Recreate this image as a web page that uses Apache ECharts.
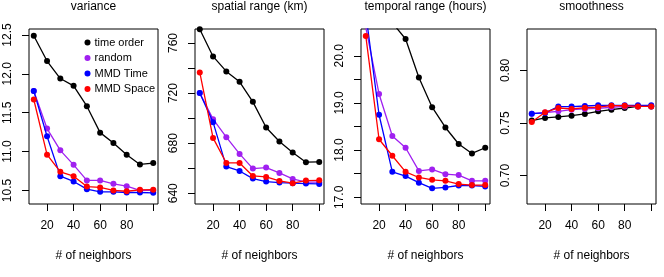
<!DOCTYPE html>
<html>
<head>
<meta charset="utf-8">
<script src="https://cdn.jsdelivr.net/npm/echarts@6/dist/echarts.min.js"></script>
<style>
html,body{margin:0;padding:0;background:#fff;}
#c{width:664px;height:277px;}
</style>
</head>
<body>
<div id="c"></div>
<script>
// ---- data ----
const neighbors = [10, 20, 30, 40, 50, 60, 70, 80, 90, 100];
const seriesNames = ['time order', 'random', 'MMD Time', 'MMD Space'];
const seriesColors = ['#000000', '#A020F0', '#0000FF', '#FF0000'];
const panelTitles = ['variance', 'spatial range (km)', 'temporal range (hours)', 'smoothness'];
const xTickValues = [20, 40, 60, 80, 100];
const xLabelValues = [20, 40, 60, 80];

// variance
const varTime   = [12.49, 12.165, 11.94, 11.846, 11.584, 11.244, 11.11, 10.96, 10.835, 10.852];
const varRandom = [11.78, 11.296, 11.016, 10.83, 10.629, 10.629, 10.586, 10.555, 10.50, 10.50];
const varMMDT   = [11.78, 11.197, 10.684, 10.616, 10.517, 10.483, 10.483, 10.474, 10.474, 10.47];
const varMMDS   = [11.67, 10.96, 10.74, 10.684, 10.55, 10.539, 10.50, 10.49, 10.508, 10.51];
// spatial range (km)
const spTime   = [771, 749.3, 737.3, 729, 713, 692.5, 681.3, 672.5, 664.8, 665];
const spRandom = [720, 699.2, 684.8, 671.4, 659.7, 660.5, 656.2, 651.4, 648.8, 648.8];
const spMMDT   = [720, 696.8, 661.3, 657.8, 651.7, 649.3, 648.5, 648, 647.7, 647.4];
const spMMDS   = [736.5, 684.2, 664.2, 664.2, 653.8, 653, 649.8, 648, 650.1, 650.3];
// temporal range (hours)
const tpTime   = [22.17, 21.22, 20.70, 20.355, 19.54, 18.91, 18.48, 18.13, 17.93, 18.05];
const tpRandom = [20.6, 19.19, 18.30, 18.05, 17.56, 17.59, 17.49, 17.47, 17.35, 17.35];
const tpMMDT   = [20.9, 18.75, 17.54, 17.45, 17.31, 17.19, 17.21, 17.25, 17.25, 17.23];
const tpMMDS   = [20.42, 18.23, 17.88, 17.54, 17.42, 17.37, 17.35, 17.28, 17.26, 17.26];
// smoothness
const smTime   = [0.7523, 0.7548, 0.7558, 0.757, 0.7586, 0.7611, 0.7627, 0.7643, 0.7658, 0.7658];
const smRandom = [0.7589, 0.760, 0.7611, 0.7627, 0.7634, 0.764, 0.765, 0.7658, 0.7658, 0.7658];
const smMMDT   = [0.7589, 0.7596, 0.7656, 0.7656, 0.7662, 0.7668, 0.7668, 0.7668, 0.7668, 0.7668];
const smMMDS   = [0.751, 0.7602, 0.7643, 0.7634, 0.7645, 0.7651, 0.7665, 0.7665, 0.7658, 0.7658];

// y-axis ticks and labels per panel
const yTicks = [
  [10.5, 11.0, 11.5, 12.0, 12.5],
  [640, 660, 680, 700, 720, 740, 760],
  [17.0, 17.5, 18.0, 18.5, 19.0, 19.5, 20.0],
  [0.70, 0.75, 0.80]
];
const yLabels = [
  [10.5, 11.0, 11.5, 12.0, 12.5],
  [640, 680, 720, 760],
  [17.0, 18.0, 19.0, 20.0],
  [0.70, 0.75, 0.80]
];
const yDecimals = [1, 0, 1, 2];
const yRanges = [[10.326, 12.577], [631.4, 771.2], [16.858, 20.567], [0.673, 0.8394]];

const panelData = [
  [varTime, varRandom, varMMDT, varMMDS],
  [spTime, spRandom, spMMDT, spMMDS],
  [tpTime, tpRandom, tpMMDT, tpMMDS],
  [smTime, smRandom, smMMDT, smMMDS]
];

// ---- layout ----
const gridLefts = [29, 195, 361, 527];
const gridTop = 29, gridW = 129, gridH = 175;
const FONT = 'Liberation Sans, Arial, Helvetica, sans-serif';

const grids = [], xAxes = [], yAxes = [], titles = [], series = [];
for (let p = 0; p < 4; p++) {
  grids.push({
    left: gridLefts[p], top: gridTop, width: gridW, height: gridH,
    show: true, borderColor: '#000', borderWidth: 1, backgroundColor: 'transparent'
  });
  titles.push({
    text: panelTitles[p], left: gridLefts[p] + gridW / 2, top: 1, textAlign: 'center', padding: 0,
    textStyle: { fontFamily: FONT, fontSize: 12, fontWeight: 'normal', color: '#000' }
  });
  xAxes.push({
    gridIndex: p, type: 'value', min: 6.4, max: 103.6,
    axisLine: { show: false },
    splitLine: { show: false },
    axisTick: { show: true, length: 7, lineStyle: { color: '#000', width: 1 }, customValues: xTickValues },
    axisLabel: { customValues: xLabelValues, margin: 16, color: '#000', fontFamily: FONT, fontSize: 12 },
    name: '# of neighbors', nameLocation: 'middle', nameGap: 46,
    nameTextStyle: { fontFamily: FONT, fontSize: 12, color: '#000' }
  });
  const dec = yDecimals[p];
  yAxes.push({
    gridIndex: p, type: 'value', min: yRanges[p][0], max: yRanges[p][1],
    axisLine: { show: false },
    splitLine: { show: false },
    axisTick: { show: true, length: 7, lineStyle: { color: '#000', width: 1 }, customValues: yTicks[p] },
    axisLabel: {
      customValues: yLabels[p], rotate: 90, margin: 15, color: '#000', fontFamily: FONT, fontSize: 12,
      formatter: v => Number(v).toFixed(dec)
    }
  });
  for (let s = 0; s < 4; s++) {
    const vals = panelData[p][s];
    series.push({
      name: seriesNames[s], type: 'line', xAxisIndex: p, yAxisIndex: p,
      data: neighbors.map((x, i) => [x, vals[i]]),
      symbol: 'circle', symbolSize: 6, showSymbol: true,
      lineStyle: { color: seriesColors[s], width: 1.3 },
      itemStyle: { color: seriesColors[s] },
      clip: true, animation: false, z: 2 + s
    });
  }
}

const chart = echarts.init(document.getElementById('c'), null, { renderer: 'canvas' });
chart.setOption({
  animation: false,
  backgroundColor: '#fff',
  title: titles,
  grid: grids,
  xAxis: xAxes,
  yAxis: yAxes,
  legend: {
    data: seriesNames.map((n, i) => ({ name: n, icon: 'circle', itemStyle: { color: seriesColors[i] } })),
    orient: 'vertical', left: 84.5, top: 37, padding: 0,
    itemWidth: 6, itemHeight: 6, itemGap: 4.5, selectedMode: false,
    textStyle: { fontFamily: FONT, fontSize: 11, color: '#000', lineHeight: 11, padding: [0, 0, 0, -1] }
  },
  series: series
});
</script>
</body>
</html>
